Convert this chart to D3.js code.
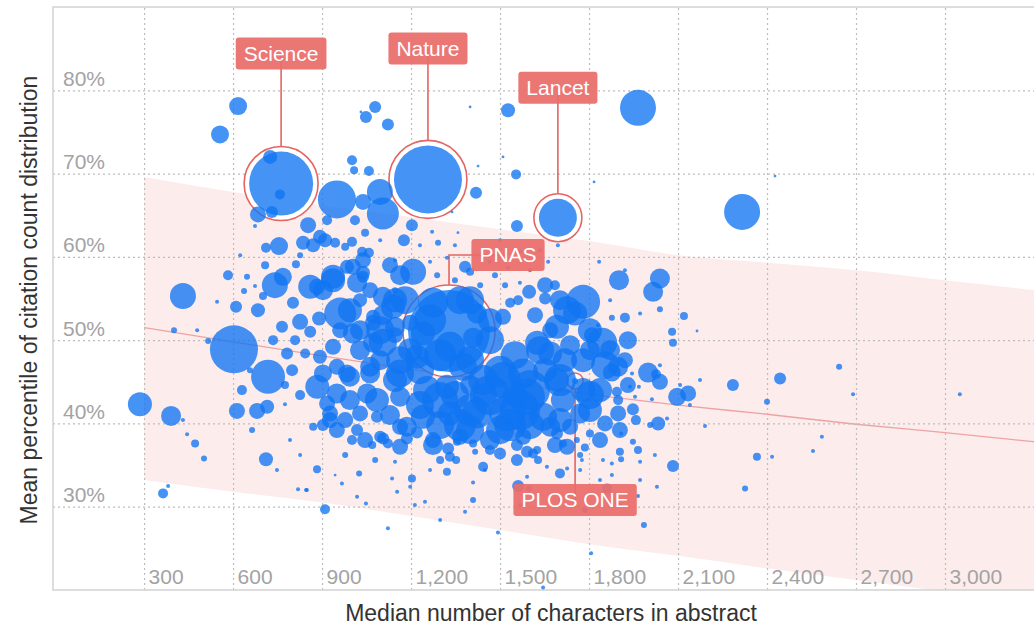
<!DOCTYPE html>
<html>
<head>
<meta charset="utf-8">
<script src="https://cdn.jsdelivr.net/npm/d3@7"></script>
<style>
  body { margin: 0; background: #fff; }
  svg { display: block; font-family: "Liberation Sans", Arial, Helvetica, sans-serif; }
</style>
</head>
<body>
<svg id="drawing_region"></svg>
<script>
// tick values
const xTicks = [300, 600, 900, 1200, 1500, 1800, 2100, 2400, 2700, 3000];
const yTicks = [30, 40, 50, 60, 70, 80];

// trend line and its band, read every 300 characters
const fitChars = [300, 600, 900, 1200, 1500, 1800, 2100, 2400, 2700, 3000, 3300];
const fitMean  = [51.5, 49.8, 48.1, 46.5, 45.0, 43.5, 42.2, 41.1, 39.9, 38.9, 37.8];
const fitUpper = [69.6, 67.8, 66.2, 64.8, 63.3, 61.9, 60.2, 59.3, 58.4, 57.2, 56.0];
const fitLower = [33.2, 31.8, 30.5, 28.9, 27.2, 25.5, 24.1, 22.6, 21.2, 19.8, 18.3];

// labelled journals: [name, median chars, mean percentile, size]
const highlighted = [
    ["Science", 762, 68.8, 1024],
    ["Nature", 1257, 69.3, 1156],
    ["Lancet", 1695, 64.7, 361],
    ["PNAS", 1328, 51.1, 1681],
    ["PLOS ONE", 1753, 45.1, 9]
];
// label offsets from the journal bubble (px)
const labelOffsets = {
    "Science": [0, -130], "Nature": [0, -131], "Lancet": [0, -130],
    "PNAS": [59, -76], "PLOS ONE": [0, 119]
};

// other journals: [median chars, mean percentile, size]
const leftJournals = [
    [617,78.1,81],[556,74.7,81],[725,72.0,49],[758,67.5,25],[684,65.1,64],[731,65.4,36],[755,61.3,81],[711,61.1,25],
    [674,63.7,4],[431,55.3,169],[401,51.2,9],[603,48.9,576],[286,42.3,144],[391,40.9,100],[472,37.6,16],[502,35.8,9],
    [445,38.7,4],[431,40.4,4],[364,31.6,25],[381,32.5,4],[711,35.7,49],[748,34.4,4],[819,32.1,4],[846,32.0,4],
    [910,29.7,25],[883,34.5,16],[583,57.8,25],[610,54.0,36],[684,53.6,49],[741,56.6,169],[802,54.5,36],[765,51.6,36],
    [735,50.0,25],[782,48.4,36],[718,45.6,289],[630,44.0,25],[613,41.5,64],[681,41.5,64],[715,42.0,49],[884,44.4,144],
    [903,46.0,81],[950,46.8,64],[927,41.2,64],[950,39.2,64],[1018,39.2,36],[1004,50.8,100],[1072,49.7,100],[843,48.4,25],
    [836,61.7,49],[853,63.8,64],[893,62.4,49],[870,61.4,49],[937,57.2,144],[883,56.4,64],[961,53.2,256],[768,57.6,81],
    [860,56.4,144],[903,56.0,100],[826,52.2,64],[890,52.6,49],[809,50.0,25],[860,51.0,36],[799,46.4,36],[826,43.4,25],
    [775,44.6,16],[657,46.4,9]
];
const upperJournals = [
    [950,66.9,361],[1095,67.8,169],[1105,65.2,256],[1038,66.6,64],[1079,78.0,36],[1048,76.8,36],[1122,75.9,36],[1031,77.4,2],
    [1001,71.6,25],[1008,70.4,16],[1058,70.3,25],[1203,63.8,36],[1176,62.0,36],[1291,61.7,9],[1011,64.4,25],[1045,62.9,16],
    [917,64.4,25],[910,62.0,49],[944,61.7,25],[978,61.2,16],[1001,61.8,25],[1035,60.6,25],[1058,60.5,25],[1004,58.8,64],
    [1038,58.1,49],[937,57.6,144],[1207,58.2,169],[1382,58.8,36],[1399,58.2,16],[1419,67.7,36],[1554,69.9,25],[1557,63.7,36],
    [1527,77.6,49],[1399,78.0,2],[1510,72.0,2],[1426,70.9,2],[1338,65.4,2],[1358,62.9,2],[1817,69.0,2],[1965,77.9,324],
    [2316,65.4,324],[2427,69.7,2],[1567,56.9,4],[1598,55.8,49],[1288,57.8,9]
];
const rightJournals = [
    [1561,54.8,25],[1780,54.6,289],[1726,53.6,196],[1753,53.2,144],[1901,57.2,100],[2039,57.4,100],[2016,55.8,100],[1972,53.2,4],
    [2039,53.7,9],[2120,52.9,16],[2080,51.0,16],[2083,49.7,16],[2164,51.1,2],[1931,50.0,81],[1844,49.7,225],[1810,50.6,64],
    [1898,46.8,100],[1877,46.1,81],[1999,46.1,100],[2039,45.0,64],[2026,45.9,25],[1945,46.0,4],[2039,47.0,4],[1894,43.8,25],
    [1938,44.4,4],[1968,44.4,4],[1955,43.2,4],[1898,42.8,25],[2097,43.2,81],[2134,43.6,64],[2107,44.6,4],[2012,42.9,4],
    [2063,40.6,4],[2033,40.0,49],[2006,39.8,9],[1948,41.7,36],[1958,40.4,25],[1898,41.2,64],[2285,44.6,36],[2444,45.4,36],
    [2643,46.8,9],[2690,43.5,4],[2400,42.6,9],[2191,39.7,4],[2366,36.0,16],[2417,36.0,4],[2326,32.2,9],[2555,36.7,4],
    [2585,38.4,4],[3050,43.5,4],[2083,34.9,36],[2029,32.4,4],[1985,27.8,9],[1965,31.3,4],[1861,32.2,25],[1908,38.8,4],
    [1948,37.8,9],[1965,36.8,16],[1904,36.6,16],[1847,35.6,4],[1877,35.2,4],[1908,35.7,9],[1972,35.4,4],[1807,24.4,4],
    [1834,59.4,4],[1645,20.3,4]
];
const lowerJournals = [
    [1025,34.0,9],[944,33.8,2],[967,32.8,4],[1018,31.2,4],[849,32.0,4],[1203,33.4,16],[1136,33.4,4],[1197,32.4,4],
    [1247,30.6,4],[1213,30.2,4],[1153,31.8,4],[1321,34.2,16],[1352,35.6,16],[1298,35.6,16],[1409,32.9,4],[1409,30.8,9],
    [1449,34.4,4],[1493,26.9,4],[1122,27.4,4],[1628,35.6,16],[1591,33.6,4],[1658,34.8,4],[1702,34.0,25],[1726,34.6,4],
    [1561,32.5,36],[1598,32.2,9],[1776,35.6,4],[1770,34.4,4],[1854,40.0,64],[1803,38.8,16],[927,40.4,64],[870,39.6,16],
    [1001,38.0,25],[1069,37.4,16],[1106,38.2,36],[1122,37.6,25],[1163,39.6,64],[1186,38.2,36],[1220,38.9,36],[1274,37.4,100],
    [1325,37.0,36],[1355,37.8,16],[1409,37.6,16],[1416,36.6,9],[1500,36.4,36],[1466,36.8,25],[1557,37.4,36],[1591,36.6,36],
    [1625,36.8,16],[1692,38.8,36],[1712,37.6,16],[1759,38.0,9],[1786,37.1,16],[1770,36.2,9]
];
const coreJournals = [
    [1105,55.2,100],[1139,54.0,144],[1062,56.0,64],[1028,51.2,100],[1105,49.7,196],[1062,46.8,100],[1163,46.0,196],[1085,42.8,144],
    [1163,43.2,100],[1254,44.0,196],[1321,44.4,144],[1375,46.8,196],[1443,45.2,225],[1510,45.2,324],[1578,46.0,225],[1591,43.2,324],
    [1524,41.2,324],[1422,41.2,225],[1331,41.2,144],[1240,40.8,144],[1186,39.6,100],[1645,40.8,196],[1692,45.2,144],[1712,42.8,144],
    [1669,48.4,144],[1625,49.7,144],[1692,51.6,144],[1780,47.6,144],[1780,44.0,144],[1770,41.2,100],[1736,39.6,64],[1466,50.0,196],
    [1510,52.8,64],[1534,54.5,25],[1274,54.5,225],[1365,54.8,196],[1422,53.2,100],[1331,49.2,225],[1409,50.3,100],[1240,50.8,144],
    [1220,48.0,144],[1038,59.6,64],[1018,56.9,100],[1105,53.0,100],[1072,52.1,64],[1146,51.6,100],[1197,52.1,64],[1096,38.4,36],
    [1163,37.2,64],[1274,38.0,64],[1365,38.4,64],[1466,38.0,100],[1578,38.4,64],[1669,39.6,100],[1726,37.2,64],[1331,36.0,25],
    [1443,34.8,25],[1557,35.6,36],[1611,36.4,25],[917,42.4,64],[950,43.6,100],[994,45.6,100],[1052,43.6,100],[1028,41.2,64],
    [1085,40.8,36],[903,39.8,36],[937,49.2,64],[893,48.0,49],[984,46.0,81],[1062,46.0,100],[984,58.8,49],[1038,57.6,36],
    [1028,54.8,49],[1072,52.8,49],[1466,43.4,400],[1601,44.0,400],[1399,41.6,256],[1534,39.8,256],[1500,46.2,256],[1854,47.0,196],
    [1803,48.8,100],[1736,49.4,100],[1669,51.2,64]
];
const denseJournals = [
    [1180,54.8,196],[1264,52.4,256],[1399,54.8,196],[1466,52.4,144],[1298,48.2,256],[1399,47.6,196],[1197,48.8,144],[1146,45.2,144],
    [1230,46.4,196],[1348,43.4,196],[1298,39.8,196],[1399,39.2,196],[1500,39.2,196],[1601,39.8,196],[1702,40.4,144],[1803,41.6,144],
    [1837,44.0,144],[1871,48.8,100],[1803,51.2,144],[1719,47.6,144],[1652,46.4,144],[1550,48.2,196],[1550,43.4,144],[1449,43.4,144],
    [1399,44.6,100],[1685,37.4,64],[1837,38.0,64],[1904,39.2,64],[994,42.8,100],[978,40.4,64],[1045,38.0,64],[1129,41.0,100],
    [1096,47.6,100],[1028,48.8,100],[961,51.2,64],[1146,50.6,64],[1163,57.8,100],[1129,59.0,64],[1921,47.6,64],[1931,44.6,64],
    [1618,53.0,64],[1702,54.8,100],[1652,56.6,64],[1298,42.8,324],[1567,41.6,400],[1702,45.2,256],[1365,39.8,256],[1230,42.2,196],
    [1803,43.4,196],[1163,47.6,196],[1635,48.8,196],[1096,51.2,196],[994,53.6,144],[1146,54.8,144]
];
const smallJournals = [
    [1146,56.0,9],[1170,54.8,4],[1264,59.4,4],[1321,59.9,4],[1348,61.4,4],[1466,59.4,4],[1483,57.8,9],[1527,58.7,4],
    [1601,58.4,4],[1662,59.4,4],[1685,56.6,25],[1652,55.0,36],[1871,54.8,4],[1877,52.7,9],[1921,52.7,25],[1921,58.4,4],
    [1830,51.8,4],[1635,60.8,4],[1567,60.6,4],[1500,62.0,4],[1146,59.6,4],[1096,62.0,4],[1230,61.4,4],[1271,63.0,4],
    [1348,57.2,9],[1433,56.6,9],[1517,56.6,9],[546,54.6,4],[479,51.2,4],[516,49.9,9],[647,57.6,9],[624,60.2,4],
    [637,55.9,9],[701,55.3,16],[674,56.5,4],[826,60.2,9],[812,59.1,16],[708,59.0,16],[1695,61.4,4],[1837,33.2,4],
    [775,42.3,4],[664,39.2,9],[826,36.2,4],[792,38.0,4],[978,36.2,9],[1079,35.6,9],[1146,35.4,4],[1264,34.4,4],
    [1048,30.4,4],[1298,28.4,4],[1382,29.4,4],[1567,30.2,4],[1702,30.8,4],[1786,29.6,9],[1904,30.2,4],[1877,33.8,4],
    [1972,33.2,4],[2022,36.2,4],[2140,42.2,4],[2174,45.2,4]
];

const journals = [].concat(leftJournals, upperJournals, rightJournals, lowerJournals, coreJournals, denseJournals, smallJournals)
    .map(d => ({ chars: d[0], pct: d[1], size: d[2] }));
const labelled = highlighted.map(d => ({ name: d[0], chars: d[1], pct: d[2], size: d[3] }));
const band = fitChars.map((c, i) => ({ chars: c, mean: fitMean[i], upper: fitUpper[i], lower: fitLower[i] }));

class BubblePlot {

    constructor( config, data, labels, band ) {
        this.config = config;
        this.data = data;
        this.labels = labels;
        this.band = band;
        this.init();
    }

    init() {
        let self = this;
        const m = self.config.margin;

        self.svg = d3.select( self.config.parent )
            .attr('width', self.config.width)
            .attr('height', self.config.height);

        self.left = m.left;
        self.top = m.top;
        self.right = self.config.width;
        self.bottom = self.config.height - m.bottom;

        self.xscale = d3.scaleLinear().domain([-7, 3300]).range([self.left, self.right]);
        self.yscale = d3.scaleLinear().domain([20, 90]).range([self.bottom, self.top]);
        self.rscale = d3.scaleSqrt().domain([0, 1600]).range([0, 40]);

        self.svg.append('defs').append('clipPath').attr('id', 'plot-clip')
            .append('rect')
            .attr('x', self.left).attr('y', self.top)
            .attr('width', self.right - self.left).attr('height', self.bottom - self.top);
    }

    render() {
        let self = this;
        const xs = self.xscale, ys = self.yscale, rs = self.rscale;
        const red = '#e46563';

        // band
        const clipped = self.svg.append('g').attr('clip-path', 'url(#plot-clip)');
        clipped.append('path')
            .datum(self.band)
            .attr('fill', '#fcecec')
            .attr('d', d3.area().x(d => xs(d.chars)).y0(d => ys(d.lower)).y1(d => ys(d.upper)).curve(d3.curveMonotoneX));

        // grid
        const grid = self.svg.append('g');
        grid.append('g')
            .attr('transform', `translate(0, ${self.bottom})`)
            .call(d3.axisBottom(xs).tickValues(xTicks).tickSize(-(self.bottom - self.top)).tickFormat(''));
        grid.append('g')
            .attr('transform', `translate(${self.left}, 0)`)
            .call(d3.axisLeft(ys).tickValues(yTicks).tickSize(-(self.right - self.left)).tickFormat(''));
        grid.selectAll('.domain').remove();
        grid.selectAll('.tick line')
            .attr('stroke', '#bdbdbd')
            .attr('stroke-width', 1.2)
            .attr('stroke-dasharray', '2,3');

        // trend line
        clipped.append('path')
            .datum(self.band)
            .attr('fill', 'none')
            .attr('stroke', '#eea3a3')
            .attr('stroke-width', 1.3)
            .attr('d', d3.line().x(d => xs(d.chars)).y(d => ys(d.mean)).curve(d3.curveMonotoneX));

        // frame
        self.svg.append('path')
            .attr('fill', 'none')
            .attr('stroke', '#d2d2d2')
            .attr('stroke-width', 1.5)
            .attr('d', `M${self.right},${self.top}H${self.left}V${self.bottom}H${self.right}`);

        // rings and leader lines under the bubbles
        const under = self.svg.append('g');
        self.labels.forEach(d => {
            const cx = xs(d.chars), cy = ys(d.pct);
            const ring = rs(d.size) + 5;
            const off = labelOffsets[d.name];
            d.lx = cx + off[0]; d.ly = cy + off[1];
            under.append('circle')
                .attr('cx', cx).attr('cy', cy).attr('r', ring)
                .attr('fill', '#fff')
                .attr('stroke', red)
                .attr('stroke-width', 1.6);
            let path;
            if (off[0] !== 0) {
                path = `M${cx},${cy - ring}V${d.ly}H${d.lx}`;
            } else if (off[1] < 0) {
                path = `M${cx},${cy - ring}V${d.ly}`;
            } else {
                path = `M${cx},${cy + ring}V${d.ly}`;
            }
            under.append('path')
                .attr('d', path)
                .attr('fill', 'none')
                .attr('stroke', red)
                .attr('stroke-width', 1.6);
        });

        // bubbles
        const all = self.data.concat(self.labels).slice().sort((a, b) => b.size - a.size);
        self.svg.append('g')
            .selectAll('circle')
            .data(all)
            .enter()
            .append('circle')
            .attr('cx', d => xs(d.chars))
            .attr('cy', d => ys(d.pct))
            .attr('r', d => rs(d.size))
            .attr('fill', '#0f74f2')
            .attr('fill-opacity', 0.78);

        // label boxes
        const tags = self.svg.append('g')
            .selectAll('g')
            .data(self.labels)
            .enter()
            .append('g')
            .attr('transform', d => `translate(${d.lx}, ${d.ly})`);
        tags.append('rect').attr('fill', '#e96d6b').attr('fill-opacity', 0.93).attr('rx', 3);
        tags.append('text')
            .attr('fill', '#fff')
            .attr('font-size', '21px')
            .attr('text-anchor', 'middle')
            .attr('dy', '0.35em')
            .text(d => d.name);
        tags.each(function() {
            const g = d3.select(this);
            const w = g.select('text').node().getComputedTextLength() + 16;
            g.select('rect').attr('x', -w / 2).attr('y', -16).attr('width', w).attr('height', 32);
        });

        // tick labels
        const xl = self.svg.append('g')
            .attr('transform', `translate(0, ${self.bottom})`)
            .call(d3.axisBottom(xs).tickValues(xTicks).tickSize(0).tickFormat(d3.format(',')));
        xl.selectAll('text').attr('y', -6).attr('dy', 0).attr('x', 4).attr('text-anchor', 'start');
        const yl = self.svg.append('g')
            .attr('transform', `translate(${self.left}, 0)`)
            .call(d3.axisLeft(ys).tickValues(yTicks).tickSize(0).tickFormat(d => d + '%'));
        yl.selectAll('text').attr('x', 10).attr('y', -5).attr('dy', 0).attr('text-anchor', 'start');
        [xl, yl].forEach(g => {
            g.select('.domain').remove();
            g.attr('font-family', null).attr('font-size', null);
            g.selectAll('text').attr('fill', '#a3a3a3').attr('font-size', '21px');
        });

        // axis titles
        self.svg.append('text')
            .attr('x', 551).attr('y', 621)
            .attr('text-anchor', 'middle')
            .attr('font-size', '23px')
            .attr('fill', '#333')
            .text('Median number of characters in abstract');
        self.svg.append('text')
            .attr('transform', 'translate(37, 300) rotate(-90)')
            .attr('text-anchor', 'middle')
            .attr('font-size', '23px')
            .attr('fill', '#333')
            .text('Mean percentile of citation count distribution');
    }
}

const config = {
    parent: '#drawing_region',
    width: 1034,
    height: 626,
    margin: { top: 7, right: 0, bottom: 36, left: 53 }
};
const plot = new BubblePlot(config, journals, labelled, band);
plot.render();
</script>
</body>
</html>
